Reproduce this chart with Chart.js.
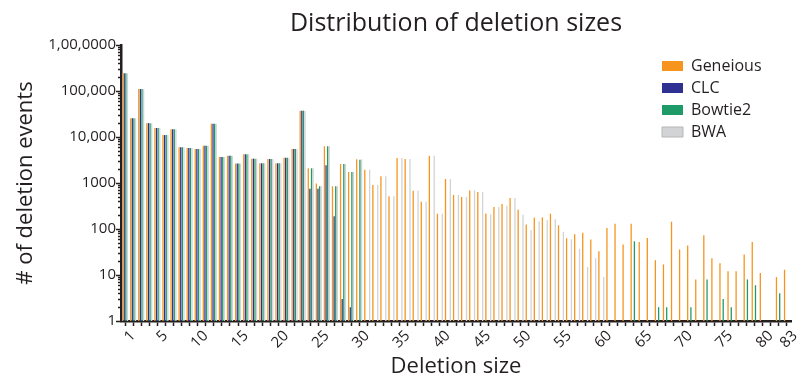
<!DOCTYPE html>
<html>
<head>
<meta charset="utf-8">
<script src="https://cdn.jsdelivr.net/npm/chart.js@4"></script>
<style>
  html, body { margin: 0; padding: 0; background: #ffffff; }
  #wrap { width: 803px; height: 386px; }
</style>
</head>
<body>
<div id="wrap"><canvas id="chart" width="803" height="386"></canvas></div>
<script>
// Deletion sizes 1..83 (one category per size)
const deletionSizes = Array.from({ length: 83 }, (_, i) => String(i + 1));

// Sizes that get a printed label on the x axis
const xTickShown = [1, 5, 10, 15, 20, 25, 30, 35, 40, 45, 50, 55, 60, 65, 70, 75, 80, 83];

// Labelled decades on the log y axis
const yTickValues = [1, 10, 100, 1000, 10000, 100000, 1000000];
const yTickLabels = ['1', '10', '100', '1000', '10,000', '100,000', '1,00,0000'];

// Number of deletion events per caller (null = none found)
const geneious = [
  243000, 25500, 110000, 20000, 15700, 11000, 14700, 5970, 5760, 5480,
  6460, 19400, 3670, 3900, 2640, 4240, 3380, 2680, 3320, 2680,
  3550, 5480, 37300, 2090, 980, 6300, 850, 2580, 1740, 3270,
  1950, 905, 1400, 515, 3480, 3330, 680, 390, 3900, 215,
  1220, 550, 497, 690, 640, 218, 300, 350, 470, 263,
  126, 176, 179, 215, 120, 63, 77, 83, 59, 33,
  105, 130, 46, 130, 52, 64, 21, 17, 144, 36,
  44, 8, 73, 23, 18, 12, 12, 28, 52, 11,
  null, 9, 13
];
const clc = [
  243000, 25500, 110000, 20000, 15700, 11000, 14700, 5970, 5760, 5480,
  6460, 19400, 3670, 3900, 2640, 4240, 3380, 2680, 3320, 2680,
  3550, 5480, 37300, 753, 753, 2430, 189, 3, 2, null,
  null, null, null, null, null, null, null, null, null, null,
  null, null, null, null, null, null, null, null, null, null,
  null, null, null, null, null, null, null, null, null, null,
  null, null, null, null, null, null, null, null, null, null,
  null, null, null, null, null, null, null, null, null, null,
  null, null, null
];
const bowtie2 = [
  243000, 25500, 110000, 20000, 15700, 11000, 14700, 5970, 5760, 5480,
  6460, 19400, 3670, 3900, 2640, 4240, 3380, 2680, 3320, 2680,
  3550, 5480, 37300, 2090, 850, 6300, 850, 2580, 1740, 3200,
  null, null, null, null, null, null, null, null, null, null,
  null, null, null, null, null, null, null, null, null, null,
  null, null, null, null, null, null, null, null, null, null,
  null, null, null, 54, null, null, 2, 2, null, null,
  2, null, 8, null, 3, 2, null, 8, 6, null,
  null, 4, null
];
const bwa = [
  243000, 25500, 110000, 20000, 15700, 11000, 14700, 5970, 5760, 5480,
  6460, 19400, 3670, 3900, 2640, 4240, 3380, 2680, 3320, 2680,
  3550, 5480, 37300, 2090, 850, 6300, 850, 2580, 1740, 3270,
  1950, 905, 1400, 515, 3480, 3330, 680, 390, 3900, 215,
  1220, 550, 497, 690, 640, 210, 300, 320, 470, 205,
  95, 148, 157, 162, 87, 60, 37, 15, 23, 9,
  null, null, null, null, null, null, null, null, null, null,
  null, null, null, null, null, null, null, null, null, null,
  null, null, null
];

const INK = '#231F20';
const FONT = "'Open Sans', 'Noto Sans', sans-serif";

// Centres the title over the plot and parks the legend in the upper right of the plot
const placement = {
  id: 'placement',
  afterLayout(chart) {
    const area = chart.chartArea;
    const t = chart.titleBlock;
    if (t) { t.left = area.left; t.right = area.right; }
    const lg = chart.legend;
    if (lg) {
      const w = lg.width, h = lg.height;
      lg.left = 656; lg.right = lg.left + w;
      lg.top = 52; lg.bottom = lg.top + h;
    }
  }
};

// Short minor ticks on the log axis (major ones come from the grid)
const minorTicks = {
  id: 'minorTicks',
  afterDraw(chart) {
    const y = chart.scales.y;
    const ctx = chart.ctx;
    const x0 = chart.chartArea.left;
    ctx.save();
    ctx.strokeStyle = INK;
    ctx.lineWidth = 1.5;
    y.ticks.forEach(t => {
      if (t.major) return;
      const py = Math.round(y.getPixelForValue(t.value)) + 0.5;
      ctx.beginPath();
      ctx.moveTo(x0, py);
      ctx.lineTo(x0 - 3, py);
      ctx.stroke();
    });
    ctx.restore();
  }
};

new Chart(document.getElementById('chart'), {
  type: 'bar',
  data: {
    labels: deletionSizes,
    datasets: [
      { label: 'Geneious', data: geneious, backgroundColor: '#F7941D' },
      { label: 'CLC', data: clc, backgroundColor: '#2E3192' },
      { label: 'Bowtie2', data: bowtie2, backgroundColor: '#1F9A69' },
      { label: 'BWA', data: bwa, backgroundColor: '#D1D3D4', borderColor: '#B5B7B9' }
    ]
  },
  options: {
    responsive: false,
    animation: false,
    events: [],
    datasets: { bar: { categoryPercentage: 0.8, barPercentage: 0.8, borderWidth: 0 } },
    layout: { padding: { left: 0, right: 12, top: 0, bottom: 0 } },
    plugins: {
      title: {
        display: true,
        text: 'Distribution of deletion sizes',
        color: INK,
        font: { family: FONT, size: 25, weight: 'normal' },
        padding: { top: 9, bottom: 6 }
      },
      legend: {
        position: 'chartArea',
        align: 'start',
        labels: {
          boxWidth: 21,
          boxHeight: 10,
          color: INK,
          padding: 6,
          font: { family: FONT, size: 16 },
          generateLabels: chart => chart.data.datasets.map((ds, i) => ({
            text: ds.label,
            fillStyle: ds.backgroundColor,
            strokeStyle: ds.borderColor || ds.backgroundColor,
            lineWidth: ds.borderColor ? 1 : 0,
            fontColor: INK,
            hidden: false,
            datasetIndex: i
          }))
        }
      },
      tooltip: { enabled: false }
    },
    scales: {
      x: {
        grid: { display: true, drawOnChartArea: false, offset: false, drawTicks: true, tickLength: 5, tickColor: INK, tickWidth: 1.5 },
        border: { display: true, color: INK, width: 2.5 },
        ticks: {
          autoSkip: false,
          minRotation: 45,
          maxRotation: 45,
          labelOffset: 8,
          padding: 1,
          color: INK,
          font: { family: FONT, size: 15 },
          callback: function (v) {
            const l = this.getLabelForValue(v);
            return xTickShown.includes(Number(l)) ? l : '';
          }
        },
        title: { display: true, text: 'Deletion size', color: INK, font: { family: FONT, size: 22 }, padding: { top: 6, bottom: 6 } },
        afterFit: s => { s.height = 65; }
      },
      y: {
        type: 'logarithmic',
        min: 1,
        max: 1000000,
        grid: {
          display: true, drawOnChartArea: false, drawTicks: true, tickLength: 5, tickWidth: 1.5,
          tickColor: c => (c.tick && c.tick.major) ? INK : 'rgba(0,0,0,0)'
        },
        border: { display: true, color: INK, width: 2.5 },
        afterBuildTicks: s => {
          const t = [];
          for (let e = 0; e < 6; e++) {
            for (let k = 1; k < 10; k++) t.push({ value: k * Math.pow(10, e), major: k === 1 });
          }
          t.push({ value: 1000000, major: true });
          s.ticks = t;
        },
        ticks: {
          autoSkip: false,
          padding: 0,
          color: INK,
          font: { family: FONT, size: 15 },
          callback: v => {
            const i = yTickValues.indexOf(v);
            return i >= 0 ? yTickLabels[i] : '';
          }
        },
        title: { display: true, text: '# of deletion events', color: INK, font: { family: FONT, size: 22 }, padding: { top: 13, bottom: 0 } },
        afterFit: s => { s.width = 121; }
      }
    }
  },
  plugins: [placement, minorTicks]
});
</script>
</body>
</html>
